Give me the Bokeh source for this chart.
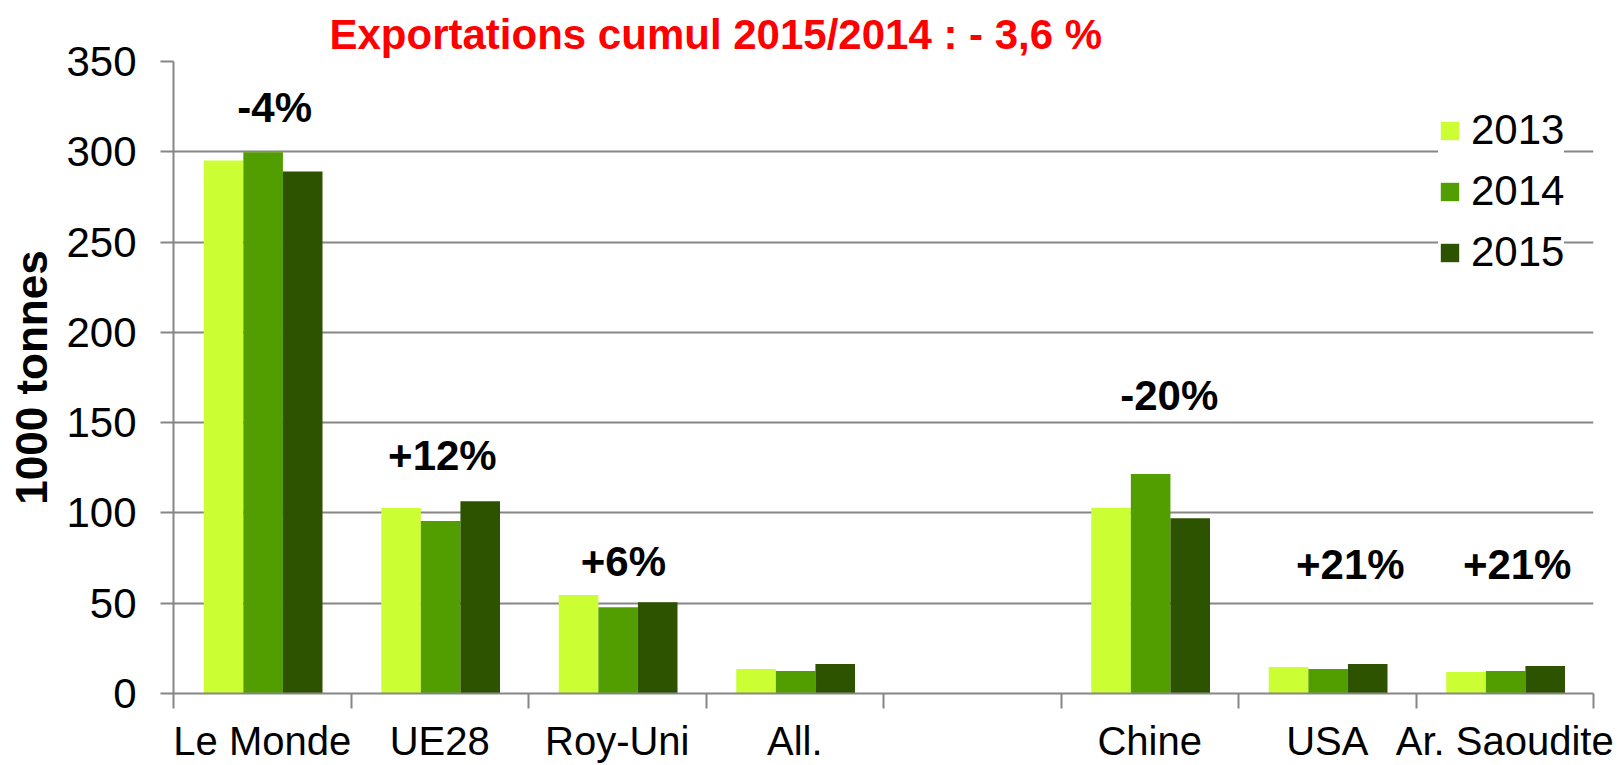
from bokeh.plotting import figure
from bokeh.models import Range1d, FixedTicker
from bokeh.core.properties import value
from bokeh.embed import file_html
from bokeh.resources import INLINE

# ---------------- data ----------------
categories = ["Le Monde", "UE28", "Roy-Uni", "All.", "", "Chine", "USA", "Ar. Saoudite"]
years = ["2013", "2014", "2015"]
nan = float("nan")
v2013 = [295.2, 102.7, 54.5, 13.6, nan, 102.8, 14.7, 11.9]
v2014 = [299.7, 95.5, 47.7, 12.5, nan, 121.5, 13.6, 12.5]
v2015 = [289.1, 106.5, 50.5, 16.3, nan, 97.1, 16.3, 15.2]
y_ticks = [0, 50, 100, 150, 200, 250, 300, 350]
ann_cats = ["Le Monde", "UE28", "Roy-Uni", "Chine", "USA", "Ar. Saoudite"]
ann_text = ["-4%", "+12%", "+6%", "-20%", "+21%", "+21%"]
ann_y = [324.6, 132.0, 72.9, 165.3, 71.5, 71.5]
title_text = "Exportations cumul 2015/2014 : - 3,6 %"
y_label = "1000 tonnes"

# ---------------- style ----------------
colors = ["#CCFF33", "#529E00", "#2D5200"]
grid_col = "#868686"
FONT = "Liberation Sans"
bar_w = 0.223
ann_dx = [0.07, 0.015, 0.035, 0.11, 0.13, 0.07]

p = figure(width=1623, height=765, output_backend="svg", toolbar_location=None,
           x_range=Range1d(0, len(categories)), y_range=Range1d(0, 350),
           min_border_left=173, min_border_right=30, min_border_top=61,
           min_border_bottom=71)
p.outline_line_color = None
p.background_fill_color = "white"
p.border_fill_color = "white"

centers = [i + 0.5 for i in range(len(categories))]
for k, (yr, vals) in enumerate(zip(years, [v2013, v2014, v2015])):
    xs = [c + (k - 1) * bar_w + 0.005 for c in centers]
    p.vbar(x=xs, top=vals, bottom=0, width=bar_w, fill_color=colors[k],
           line_color=None, legend_label=yr)

# annotations (percent changes)
ax = [centers[categories.index(c)] + d for c, d in zip(ann_cats, ann_dx)]
p.text(x=ax, y=ann_y, text=ann_text, text_align="center", text_baseline="middle",
       text_font_size="42px", text_font_style="bold", text_color="black",
       text_font=value(FONT))

# title
p.title.text = title_text
p.title.align = "left"
p.title.offset = 156
p.title.text_font_size = "42px"
p.title.text_font_style = "bold"
p.title.text_color = "#FF0000"
p.title.text_font = FONT
p.title.standoff = 7

# y axis
ya = p.yaxis[0]
ya.ticker = FixedTicker(ticks=y_ticks)
ya.axis_line_color = grid_col
ya.axis_line_width = 2
ya.major_tick_line_color = grid_col
ya.major_tick_line_width = 2
ya.major_tick_out = 13
ya.major_tick_in = 0
ya.minor_tick_line_color = None
ya.major_label_text_font_size = "42px"
ya.major_label_text_font = FONT
ya.major_label_text_color = "black"
ya.major_label_standoff = 24
ya.axis_label = y_label
ya.axis_label_text_font_size = "44px"
ya.axis_label_text_font_style = "bold"
ya.axis_label_text_font = FONT
ya.axis_label_text_color = "black"
ya.axis_label_standoff = 7

# x axis: labels at category centres, ticks at category boundaries
xa = p.xaxis[0]
xa.ticker = FixedTicker(ticks=centers, minor_ticks=list(range(len(categories) + 1)))
xa.major_label_overrides = {c: lab for c, lab in zip(centers, categories)}
xa.axis_line_color = grid_col
xa.axis_line_width = 2
xa.major_tick_line_color = None
xa.major_tick_out = 0
xa.major_tick_in = 0
xa.minor_tick_line_color = grid_col
xa.minor_tick_line_width = 2
xa.minor_tick_out = 15
xa.minor_tick_in = 0
xa.major_label_text_font_size = "40px"
xa.major_label_text_font = FONT
xa.major_label_text_color = "black"
xa.major_label_standoff = 10

p.xgrid.grid_line_color = None
p.ygrid.ticker = FixedTicker(ticks=y_ticks)
p.ygrid.grid_line_color = grid_col
p.ygrid.grid_line_width = 2

# legend
lg = p.legend[0]
lg.location = (1265, 417)
lg.background_fill_color = "white"
lg.background_fill_alpha = 1
lg.border_line_color = None
lg.padding = 17
lg.spacing = 13
lg.glyph_width = 23
lg.glyph_height = 23
lg.label_standoff = 10
lg.label_text_font_size = "42px"
lg.label_text_font = FONT
lg.label_text_color = "black"
lg.label_height = 47
lg.margin = 0

open("out.html", "w").write(file_html(p, INLINE))
